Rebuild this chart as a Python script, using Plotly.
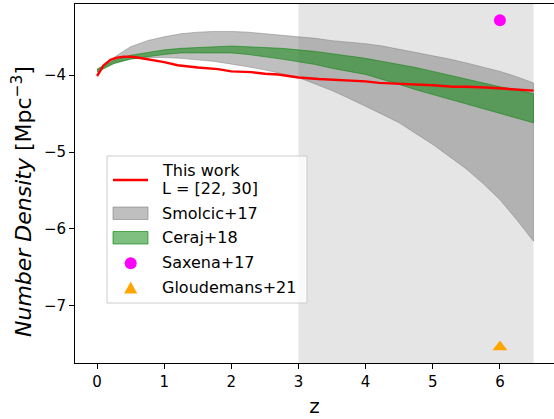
import plotly.graph_objects as go

# ---- data -------------------------------------------------------------
z_this = [0.0, 0.05, 0.1, 0.2, 0.3, 0.4, 0.5, 0.6, 0.8, 1.0, 1.2, 1.5, 1.8,
          2.0, 2.3, 2.5, 2.7, 3.0, 3.3, 3.5, 3.8, 4.0, 4.2, 4.5, 4.8, 5.0,
          5.3, 5.5, 5.8, 6.0, 6.3, 6.5]
n_this = [-4.01, -3.93, -3.87, -3.80, -3.77, -3.76, -3.76, -3.77, -3.80,
          -3.83, -3.87, -3.90, -3.92, -3.95, -3.96, -3.98, -3.99, -4.03,
          -4.05, -4.06, -4.07, -4.08, -4.10, -4.11, -4.12, -4.13, -4.15,
          -4.15, -4.16, -4.17, -4.19, -4.20]

z_band = [0.0, 0.25, 0.5, 0.75, 1.0, 1.25, 1.5, 1.75, 2.0, 2.25, 2.5, 2.75,
          3.0, 3.25, 3.5, 3.75, 4.0, 4.25, 4.5, 4.75, 5.0, 5.25, 5.5, 5.75,
          6.0, 6.25, 6.5]
smolcic_hi = [-3.93, -3.77, -3.63, -3.55, -3.50, -3.46, -3.44, -3.43, -3.43,
              -3.44, -3.46, -3.48, -3.50, -3.52, -3.55, -3.57, -3.59, -3.62,
              -3.66, -3.70, -3.75, -3.79, -3.84, -3.89, -3.95, -4.02, -4.10]
smolcic_lo = [-3.95, -3.84, -3.79, -3.77, -3.77, -3.78, -3.80, -3.82, -3.85,
              -3.89, -3.93, -3.98, -4.03, -4.11, -4.20, -4.30, -4.40, -4.51,
              -4.62, -4.76, -4.90, -5.06, -5.22, -5.41, -5.62, -5.88, -6.16]
ceraj_hi = [-3.92, -3.81, -3.74, -3.70, -3.67, -3.65, -3.64, -3.63, -3.62,
            -3.63, -3.64, -3.65, -3.67, -3.69, -3.72, -3.75, -3.78, -3.82,
            -3.86, -3.90, -3.95, -4.00, -4.05, -4.10, -4.15, -4.19, -4.24]
ceraj_lo = [-3.96, -3.85, -3.79, -3.76, -3.73, -3.71, -3.71, -3.71, -3.71,
            -3.73, -3.76, -3.79, -3.82, -3.86, -3.91, -3.95, -3.99, -4.05,
            -4.12, -4.19, -4.26, -4.32, -4.38, -4.44, -4.50, -4.56, -4.62]

saxena_z, saxena_n = [6.0], [-3.285]
gloud_z, gloud_n = [6.0], [-7.537]

shade_z = [3.0, 6.5]

x_ticks = [0, 1, 2, 3, 4, 5, 6]
y_ticks = [-7, -6, -5, -4]

legend_labels = ["This work", "L = [22, 30]", "Smolcic+17", "Ceraj+18",
                 "Saxena+17", "Gloudemans+21"]

# ---- figure geometry --------------------------------------------------
W, H = 554, 419
ML, MR, MT, MB = 75, 0, 4, 56
PW, PH = W - ML - MR, H - MT - MB
FONT = "DejaVu Sans"


def px(x):
    return (x - ML) / PW


def py(y):
    return (H - MB - y) / PH


def band(z, hi, lo):
    return list(z) + list(z)[::-1], list(hi) + list(lo)[::-1]


fig = go.Figure()

bx, by = band(z_band, smolcic_hi, smolcic_lo)
fig.add_trace(go.Scatter(x=bx, y=by, fill="toself", mode="lines",
                         fillcolor="rgba(128,128,128,0.5)",
                         line=dict(color="rgba(128,128,128,0.5)", width=1),
                         showlegend=False, hoverinfo="skip"))
bx, by = band(z_band, ceraj_hi, ceraj_lo)
fig.add_trace(go.Scatter(x=bx, y=by, fill="toself", mode="lines",
                         fillcolor="rgba(0,128,0,0.5)",
                         line=dict(color="rgba(0,128,0,0.5)", width=1),
                         showlegend=False, hoverinfo="skip"))
fig.add_trace(go.Scatter(x=z_this, y=n_this, mode="lines",
                         line=dict(color="red", width=2.4),
                         showlegend=False))
fig.add_trace(go.Scatter(x=saxena_z, y=saxena_n, mode="markers",
                         marker=dict(color="magenta", size=12, symbol="circle"),
                         showlegend=False))
fig.add_trace(go.Scatter(x=gloud_z, y=gloud_n, mode="markers",
                         marker=dict(color="orange", size=13,
                                     symbol="triangle-up"),
                         showlegend=False))

# high-z shaded region
fig.add_shape(type="rect", xref="x", yref="paper", x0=shade_z[0],
              x1=shade_z[1], y0=0, y1=1, fillcolor="#e5e5e5",
              line=dict(width=0), layer="below")

# ---- legend box -------------------------------------------------------
lx0, lx1, ly0, ly1 = 107, 307, 156, 303
fig.add_shape(type="rect", xref="paper", yref="paper",
              x0=px(lx0), x1=px(lx1), y0=py(ly1), y1=py(ly0),
              fillcolor="rgba(255,255,255,0.8)",
              line=dict(color="#cccccc", width=1))
hx0, hx1 = 113, 148
fig.add_shape(type="line", xref="paper", yref="paper",
              x0=px(hx0), x1=px(hx1), y0=py(180), y1=py(180),
              line=dict(color="red", width=2.4))
fig.add_shape(type="rect", xref="paper", yref="paper",
              x0=px(hx0), x1=px(hx1), y0=py(219.5), y1=py(207),
              fillcolor="rgba(128,128,128,0.5)",
              line=dict(color="rgba(128,128,128,0.6)", width=1))
fig.add_shape(type="rect", xref="paper", yref="paper",
              x0=px(hx0), x1=px(hx1), y0=py(244), y1=py(231.5),
              fillcolor="rgba(0,128,0,0.5)",
              line=dict(color="rgba(0,128,0,0.6)", width=1))
cx, r = 130.7, 6
fig.add_shape(type="circle", xref="paper", yref="paper",
              x0=px(cx - r), x1=px(cx + r), y0=py(263.3 + r), y1=py(263.3 - r),
              fillcolor="magenta", line=dict(width=0))
tri = "M {:.5f} {:.5f} L {:.5f} {:.5f} L {:.5f} {:.5f} Z".format(
    px(cx), py(281.5), px(cx - 6.5), py(293.5), px(cx + 6.5), py(293.5))
fig.add_shape(type="path", xref="paper", yref="paper", path=tri,
              fillcolor="orange", line=dict(width=0))

row_y = [170, 188, 213, 237.5, 262, 287]
for label, yy in zip(legend_labels, row_y):
    fig.add_annotation(text=label, xref="paper", yref="paper", x=px(160),
                       y=py(yy), xanchor="left", yanchor="middle",
                       showarrow=False,
                       font=dict(family=FONT, size=16, color="black"))

# y-axis label
fig.add_annotation(text="<i>Number Density</i> [Mpc<sup>\u22123</sup>]",
                   xref="paper", yref="paper", x=px(22), y=py(202),
                   xanchor="center", yanchor="middle", textangle=-90,
                   showarrow=False,
                   font=dict(family=FONT, size=22, color="black"))

# ---- axes -------------------------------------------------------------
axis_font = dict(family=FONT, size=15, color="black")
fig.update_xaxes(range=[-0.328, 6.805], tickvals=x_ticks,
                 ticktext=[str(v) for v in x_ticks], tickfont=axis_font,
                 ticks="outside", ticklen=5, tickwidth=1, tickcolor="black",
                 showline=True, linecolor="black", linewidth=1, mirror=True,
                 showgrid=False, zeroline=False,
                 title=dict(text="z", font=dict(family=FONT, size=20,
                                                color="black"), standoff=8))
fig.update_yaxes(range=[-7.745, -3.073], tickvals=y_ticks,
                 ticktext=["\u2212" + str(abs(v)) for v in y_ticks],
                 tickfont=axis_font, ticks="outside", ticklen=5, tickwidth=1,
                 tickcolor="black", showline=True, linecolor="black",
                 linewidth=1, mirror=False, showgrid=False, zeroline=False)

fig.update_layout(width=W, height=H, margin=dict(l=ML, r=MR, t=MT, b=MB),
                  plot_bgcolor="white", paper_bgcolor="white",
                  font=dict(family=FONT, color="black"), showlegend=False)

fig.write_html("out.html")
